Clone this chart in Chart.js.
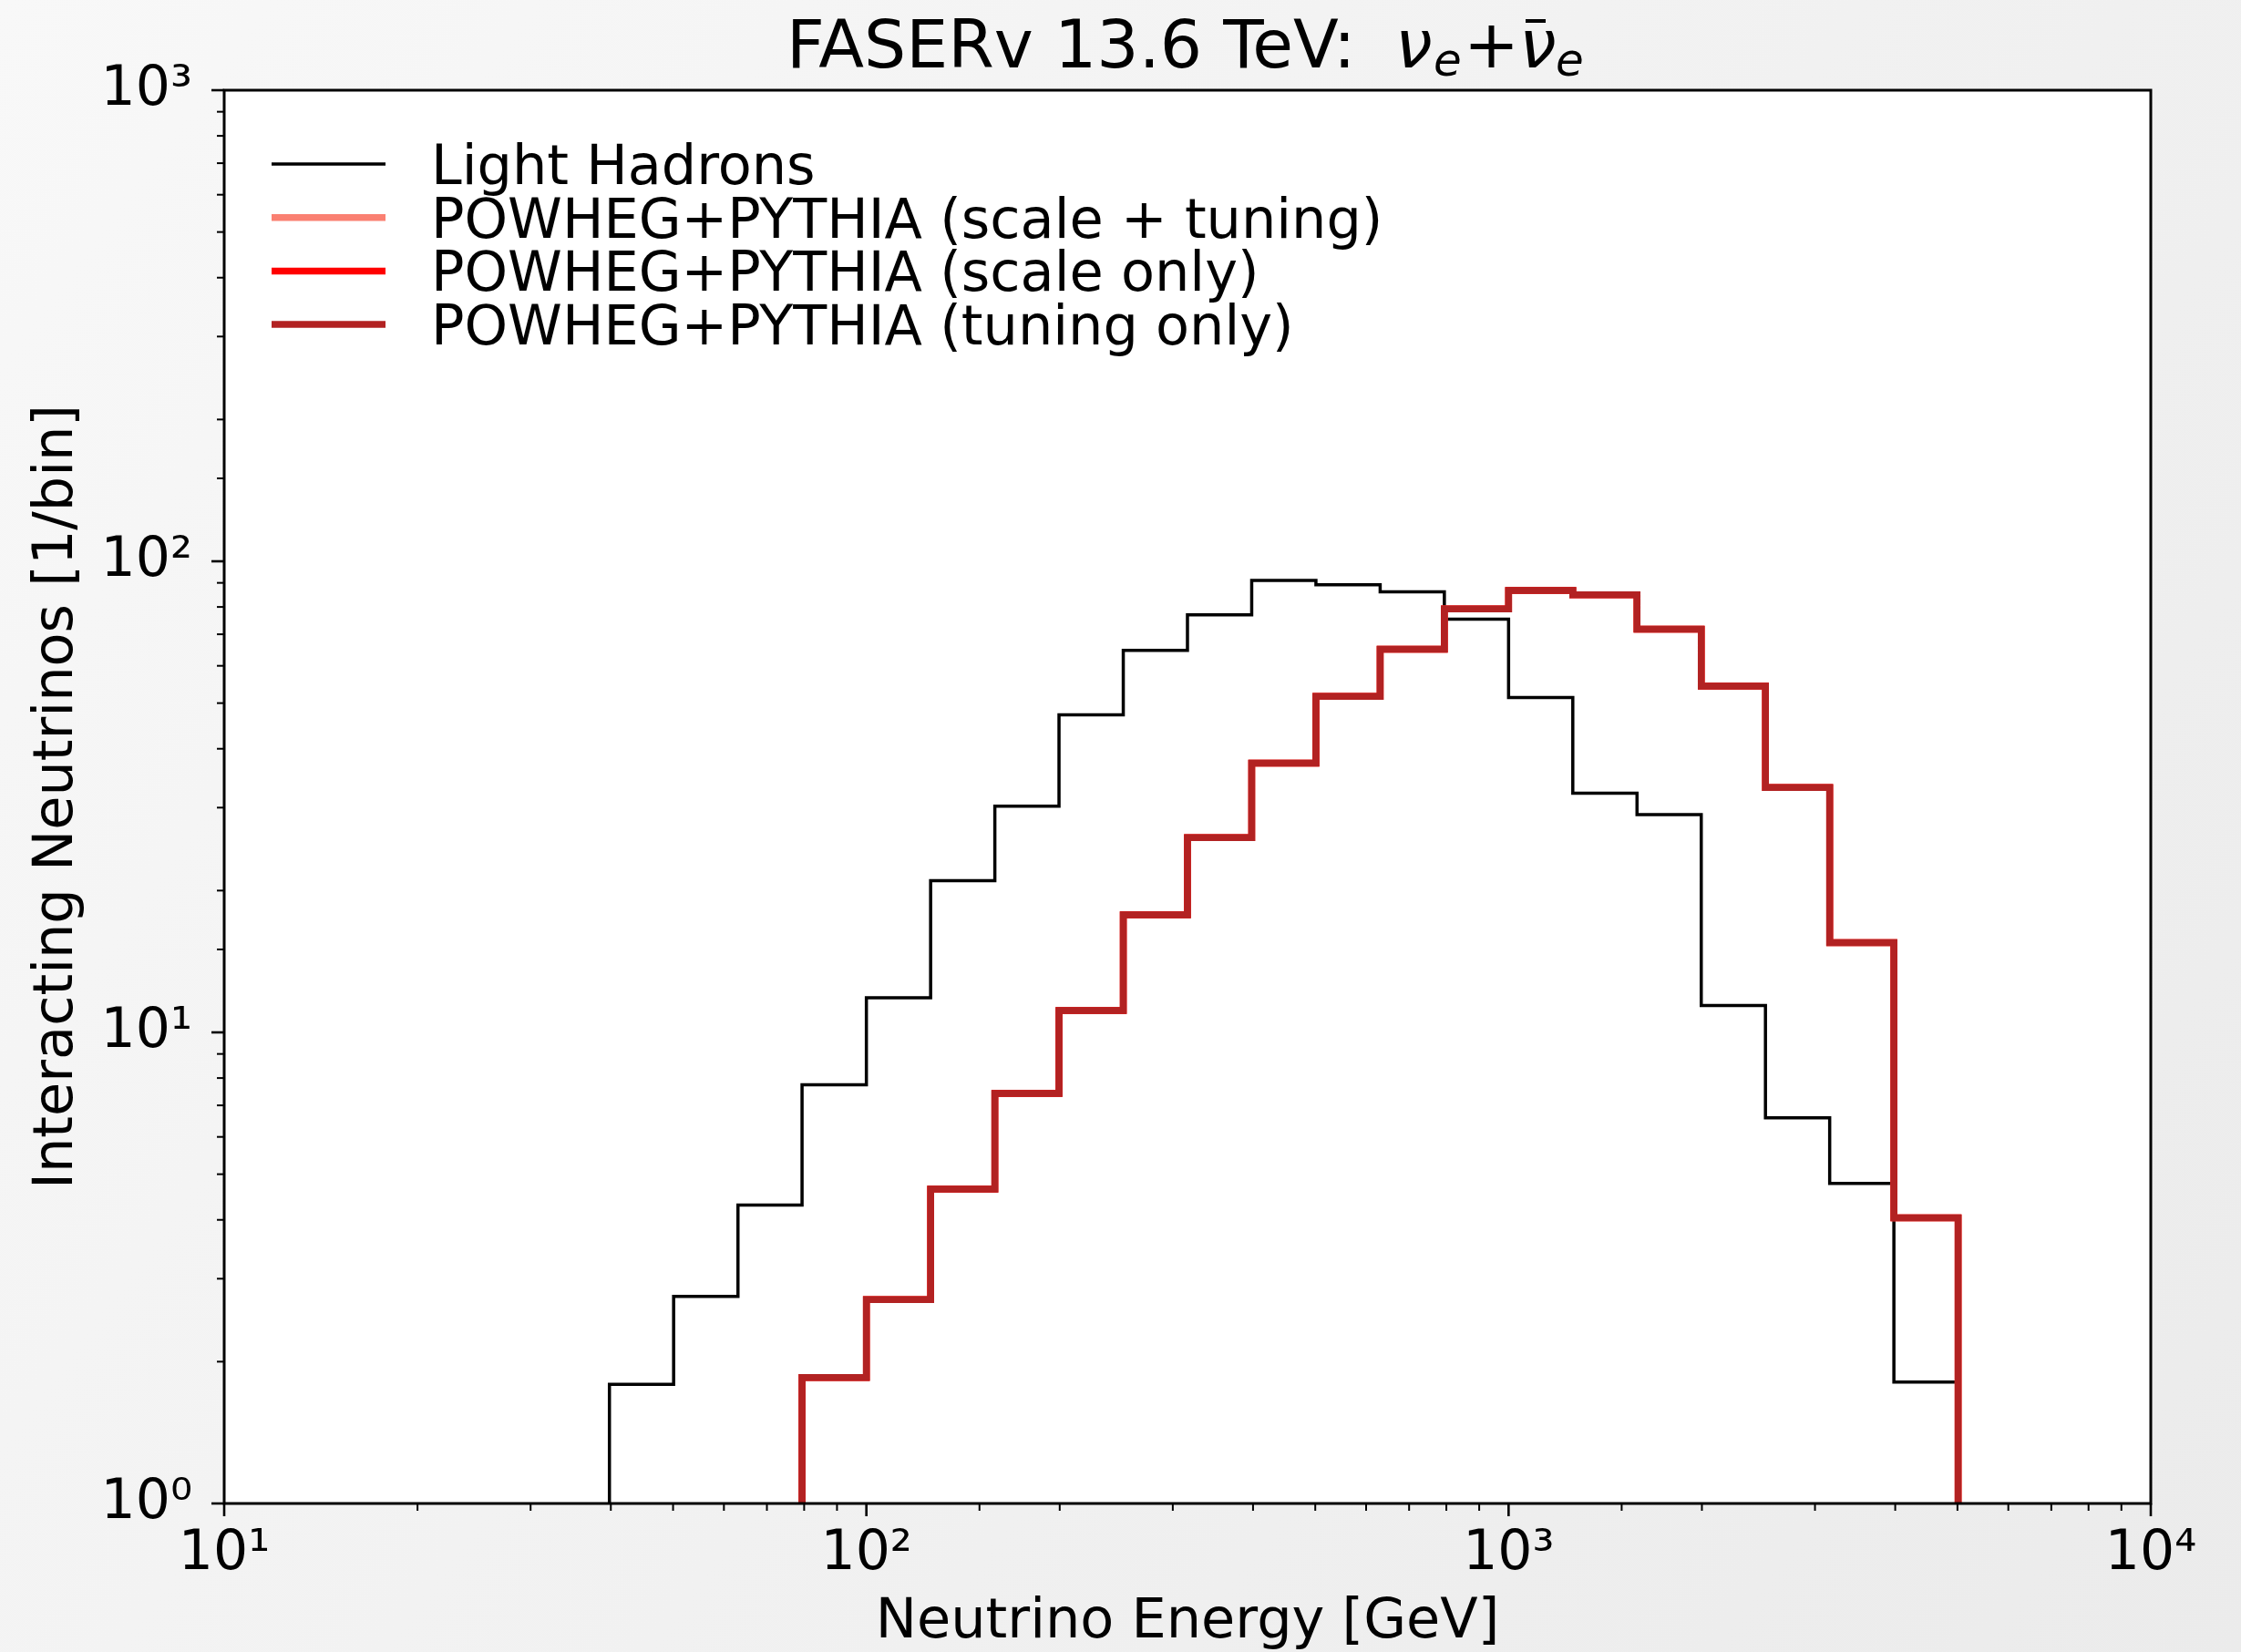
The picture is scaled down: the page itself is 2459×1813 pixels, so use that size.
<!DOCTYPE html>
<html>
<head>
<meta charset="utf-8">
<script src="https://cdn.jsdelivr.net/npm/chart.js@4.4.0/dist/chart.umd.min.js"></script>
<style>
  html, body { margin: 0; padding: 0; background: #f2f2f2; }
  #wrap { width: 2459px; height: 1813px; }
</style>
</head>
<body>
<div id="wrap"><canvas id="histChart" width="2459" height="1813"></canvas></div>
<script>
// bin edges [GeV], 10 bins per decade
const binEdges = [39.8, 50.1, 63.1, 79.4, 100, 125.9, 158.5, 199.5, 251.2, 316.2, 398.1,
                  501.2, 631.0, 794.3, 1000, 1258.9, 1584.9, 1995.3, 2511.9, 3162.3, 3981.1, 5011.9];

// Light hadrons start at the first edge (39.8 GeV)
const lightHadrons = [1.79, 2.75, 4.30, 7.74, 11.85, 21.0, 30.2, 47.2, 64.7, 77.0, 91.1,
                      89.2, 86.1, 75.4, 51.4, 32.2, 29.0, 11.4, 6.59, 4.78, 1.81];

// POWHEG+PYTHIA curves start at 79.4 GeV (edge index 3)
const powhegScaleTuning = [1.85, 2.71, 4.65, 7.42, 11.13, 17.77, 25.9, 37.3, 51.7, 65.1,
                           79.2, 86.7, 84.9, 71.8, 54.3, 33.1, 15.5, 4.04];
const powhegScaleOnly   = [1.85, 2.71, 4.65, 7.42, 11.13, 17.77, 25.9, 37.3, 51.7, 65.1,
                           79.2, 86.7, 84.9, 71.8, 54.3, 33.1, 15.5, 4.04];
const powhegTuningOnly  = [1.85, 2.71, 4.65, 7.42, 11.13, 17.77, 25.9, 37.3, 51.7, 65.1,
                           79.2, 86.7, 84.9, 71.8, 54.3, 33.1, 15.5, 4.04];

const xTickLabels = ['10¹', '10²', '10³', '10⁴'];
const yTickLabels = ['10⁰', '10¹', '10²', '10³'];

const FONT = 'DejaVu Sans';

// turn bin contents into step outline points (from the bottom and back down)
function stepPoints(values, firstEdge) {
    let pts = [{ x: binEdges[firstEdge], y: 1 }];
    values.forEach((v, i) => pts.push({ x: binEdges[firstEdge + i], y: v }));
    let last = binEdges[firstEdge + values.length];
    pts.push({ x: last, y: values[values.length - 1] });
    pts.push({ x: last, y: 1 });
    return pts;
}

function decadeIndex(v) {
    let e = Math.log10(v);
    return Math.abs(e - Math.round(e)) < 1e-6 ? Math.round(e) : null;
}

const decor = {
    id: 'decor',
    beforeDraw(chart) {
        const ctx = chart.ctx, a = chart.chartArea;
        let g = ctx.createLinearGradient(0, 0, chart.width, chart.height);
        g.addColorStop(0, '#f8f8f8');
        g.addColorStop(1, '#ebebeb');
        ctx.save();
        ctx.fillStyle = g;
        ctx.fillRect(0, 0, chart.width, chart.height);
        ctx.fillStyle = '#ffffff';
        ctx.fillRect(a.left, a.top, a.right - a.left, a.bottom - a.top);
        ctx.restore();
    },
    afterDatasetsDraw(chart) {
        const ctx = chart.ctx, a = chart.chartArea;
        const xs = chart.scales.x, ys = chart.scales.y;
        ctx.save();
        ctx.strokeStyle = '#000';
        // tick marks
        xs.ticks.forEach(t => {
            let major = decadeIndex(t.value) !== null;
            let px = xs.getPixelForValue(t.value);
            ctx.lineWidth = major ? 2.6 : 2;
            ctx.beginPath();
            ctx.moveTo(px, a.bottom);
            ctx.lineTo(px, a.bottom + (major ? 14 : 8));
            ctx.stroke();
        });
        ys.ticks.forEach(t => {
            let major = decadeIndex(t.value) !== null;
            let py = ys.getPixelForValue(t.value);
            ctx.lineWidth = major ? 2.6 : 2;
            ctx.beginPath();
            ctx.moveTo(a.left, py);
            ctx.lineTo(a.left - (major ? 14 : 8), py);
            ctx.stroke();
        });
        // frame
        ctx.lineWidth = 3;
        ctx.strokeRect(a.left, a.top, a.right - a.left, a.bottom - a.top);

        // legend
        ctx.font = '60.5px "' + FONT + '"';
        ctx.textAlign = 'left';
        ctx.textBaseline = 'alphabetic';
        ctx.fillStyle = '#000';
        let rowY = 180;
        chart.data.datasets.forEach(ds => {
            ctx.strokeStyle = ds.borderColor;
            ctx.lineWidth = ds.borderWidth;
            ctx.beginPath();
            ctx.moveTo(298, rowY);
            ctx.lineTo(423, rowY);
            ctx.stroke();
            ctx.fillText(ds.label, 473, rowY + 22);
            rowY += 58.7;
        });

        // title: FASERv 13.6 TeV: nu_e + nubar_e  (ink left edges, relative to plot centre)
        const big = 72.8, small = 50, base = 74, subBase = 83;
        const cx = (a.left + a.right) / 2 - 1303;
        const normal = big + 'px "' + FONT + '"';
        const ital = 'italic ' + big + 'px "' + FONT + '"';
        const italSmall = 'italic ' + small + 'px "' + FONT + '"';
        const parts = [
            { t: 'FASERv 13.6 TeV:', f: normal, ink: 870, y: base },
            { t: 'ν', f: ital, ink: 1537, y: base },
            { t: 'e', f: italSmall, ink: 1575, y: subBase },
            { t: '+', f: normal, ink: 1613, y: base },
            { t: 'ν', f: ital, ink: 1673, y: base, bar: true },
            { t: 'e', f: italSmall, ink: 1709, y: subBase }
        ];
        ctx.strokeStyle = '#000';
        parts.forEach(p => {
            ctx.font = p.f;
            let m = ctx.measureText(p.t);
            let ox = cx + p.ink + m.actualBoundingBoxLeft;
            ctx.fillText(p.t, ox, p.y);
            if (p.bar) {
                ctx.lineWidth = 4;
                ctx.beginPath();
                ctx.moveTo(cx + p.ink + 1, 23);
                ctx.lineTo(cx + p.ink + 23, 23);
                ctx.stroke();
            }
        });
        ctx.restore();
    }
};

const ctx = document.getElementById('histChart').getContext('2d');
new Chart(ctx, {
    type: 'line',
    data: {
        datasets: [
            { label: 'Light Hadrons', data: stepPoints(lightHadrons, 0), borderColor: '#000000', borderWidth: 3.5, order: 4 },
            { label: 'POWHEG+PYTHIA (scale + tuning)', data: stepPoints(powhegScaleTuning, 3), borderColor: '#fa8072', borderWidth: 7.5, order: 3 },
            { label: 'POWHEG+PYTHIA (scale only)', data: stepPoints(powhegScaleOnly, 3), borderColor: '#ff0000', borderWidth: 7.5, order: 2 },
            { label: 'POWHEG+PYTHIA (tuning only)', data: stepPoints(powhegTuningOnly, 3), borderColor: '#b22222', borderWidth: 7.5, order: 1 }
        ]
    },
    options: {
        responsive: false,
        animation: false,
        devicePixelRatio: 1,
        layout: { padding: { left: 0, right: 99, top: 99, bottom: 0 } },
        elements: {
            line: { stepped: 'before', tension: 0, fill: false, borderJoinStyle: 'miter', borderCapStyle: 'butt' },
            point: { radius: 0 }
        },
        plugins: { legend: { display: false }, tooltip: { enabled: false }, title: { display: false } },
        scales: {
            x: {
                type: 'logarithmic', min: 10, max: 10000, position: 'bottom',
                grid: { drawOnChartArea: false, drawTicks: true, tickLength: 14, tickColor: 'rgba(0,0,0,0)' },
                border: { display: false },
                ticks: {
                    autoSkip: false, maxRotation: 0, padding: 6, color: '#000',
                    font: { family: FONT, size: 60 },
                    callback: v => { let d = decadeIndex(v); return d === null ? '' : xTickLabels[d - 1]; }
                },
                title: { display: true, text: 'Neutrino Energy [GeV]', color: '#000',
                         font: { family: FONT, size: 60.5, lineHeight: 1 }, padding: { top: 0, bottom: 1 } },
                afterFit: s => { s.height = 163; }
            },
            y: {
                type: 'logarithmic', min: 1, max: 1000, position: 'left',
                grid: { drawOnChartArea: false, drawTicks: true, tickLength: 14, tickColor: 'rgba(0,0,0,0)' },
                border: { display: false },
                ticks: {
                    autoSkip: false, padding: 21, color: '#000',
                    font: { family: FONT, size: 60 },
                    callback: v => { let d = decadeIndex(v); return d === null ? '' : yTickLabels[d]; }
                },
                title: { display: true, text: 'Interacting Neutrinos [1/bin]', color: '#000',
                         font: { family: FONT, size: 60.5, lineHeight: 1 }, padding: { top: 33, bottom: 0 } },
                afterFit: s => { s.width = 246; }
            }
        }
    },
    plugins: [decor]
});
</script>
</body>
</html>
